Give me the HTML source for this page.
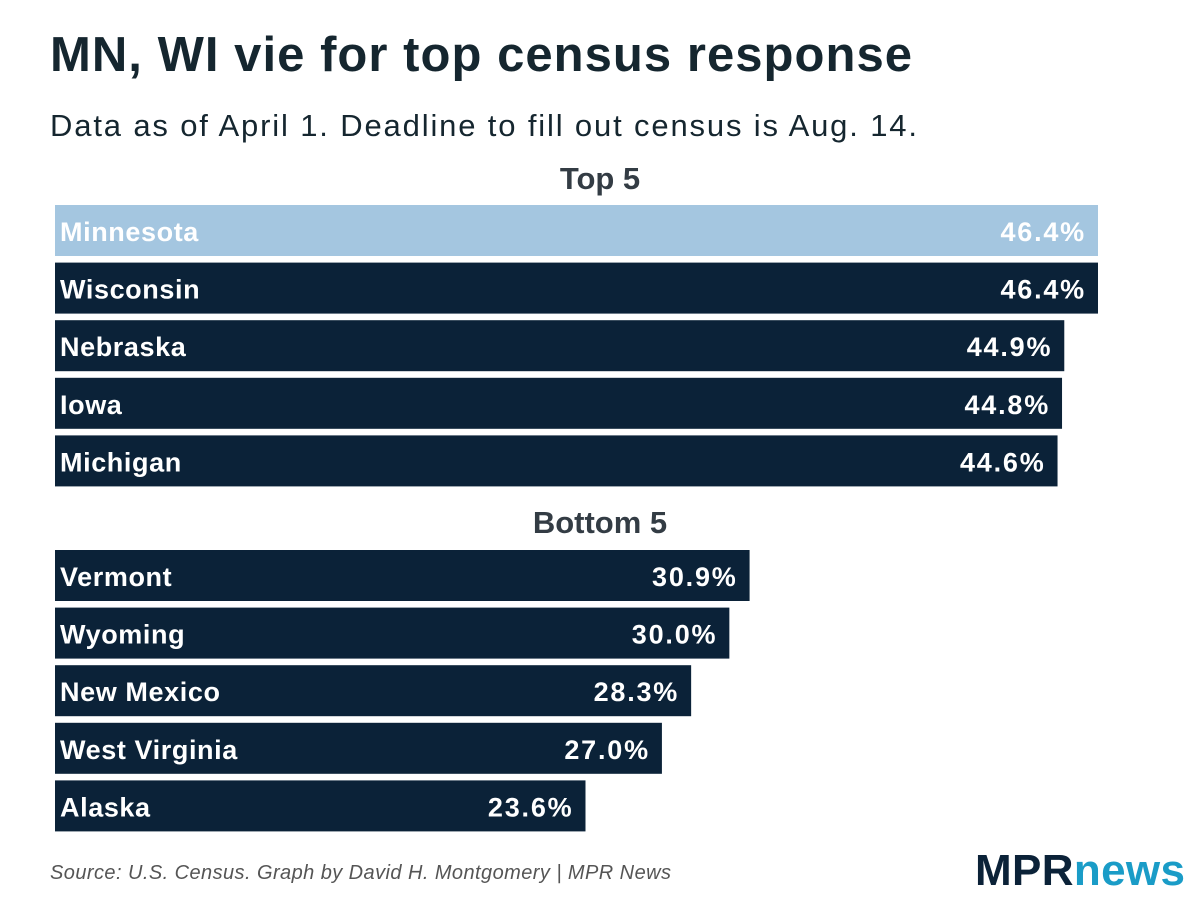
<!DOCTYPE html>
<html><head><meta charset="utf-8"><style>
body{margin:0;background:#fff;}
svg{display:block;font-family:"Liberation Sans",sans-serif;}
</style></head><body>
<svg id="c" width="1200" height="900">
<text x="50" y="71" font-size="49" font-weight="bold" fill="#15262f" textLength="862">MN, WI vie for top census response</text>
<text x="50" y="136" font-size="31" fill="#15262f" textLength="867">Data as of April 1. Deadline to fill out census is Aug. 14.</text>
<text x="600" y="189" font-size="31" font-weight="bold" fill="#333c44" text-anchor="middle">Top 5</text>
<text x="600" y="533" font-size="31" font-weight="bold" fill="#333c44" text-anchor="middle">Bottom 5</text>
<g id="bars"></g>
<text x="50" y="879" font-size="20" font-style="italic" fill="#555" textLength="621">Source: U.S. Census. Graph by David H. Montgomery | MPR News</text>
<text x="975" y="885" font-size="44" font-weight="bold" textLength="210"><tspan fill="#0b2238">MPR</tspan><tspan fill="#1a9cc7">news</tspan></text>
</svg>
<script>
const topStates=["Minnesota","Wisconsin","Nebraska","Iowa","Michigan"];
const topValues=[46.4,46.4,44.9,44.8,44.6];
const bottomStates=["Vermont","Wyoming","New Mexico","West Virginia","Alaska"];
const bottomValues=[30.9,30.0,28.3,27.0,23.6];
const highlight="Minnesota";
const x0=55, pxPer=1043/46.4, barH=51, step=57.6;
function xs(v){return v*pxPer;}
const g=document.getElementById('bars');
const NS="http://www.w3.org/2000/svg";
function draw(states,vals,top0){
  states.forEach((s,i)=>{
    const y=top0+i*step;
    const r=document.createElementNS(NS,'rect');
    r.setAttribute('x',x0);r.setAttribute('y',y);
    r.setAttribute('width',xs(vals[i]));r.setAttribute('height',barH);
    r.setAttribute('fill',s===highlight?'#a4c6e0':'#0b2238');
    
    
    g.appendChild(r);
    const t=document.createElementNS(NS,'text');
    t.setAttribute('x',x0+5);t.setAttribute('y',y+36);
    t.setAttribute('font-size','27');t.setAttribute('font-weight','bold');t.setAttribute('fill','#fff');
    t.setAttribute('letter-spacing','0.6');
    t.textContent=s;
    
    
    g.appendChild(t);
    const v=document.createElementNS(NS,'text');
    v.setAttribute('x',x0+xs(vals[i])-12);v.setAttribute('y',y+36);
    v.setAttribute('font-size','27');v.setAttribute('font-weight','bold');v.setAttribute('fill','#fff');
    v.setAttribute('text-anchor','end');v.setAttribute('letter-spacing','1.8');
    v.textContent=vals[i].toFixed(1)+'%';
    
    
    g.appendChild(v);
  });
}
draw(topStates,topValues,205);
draw(bottomStates,bottomValues,550);
</script>
</body></html>
